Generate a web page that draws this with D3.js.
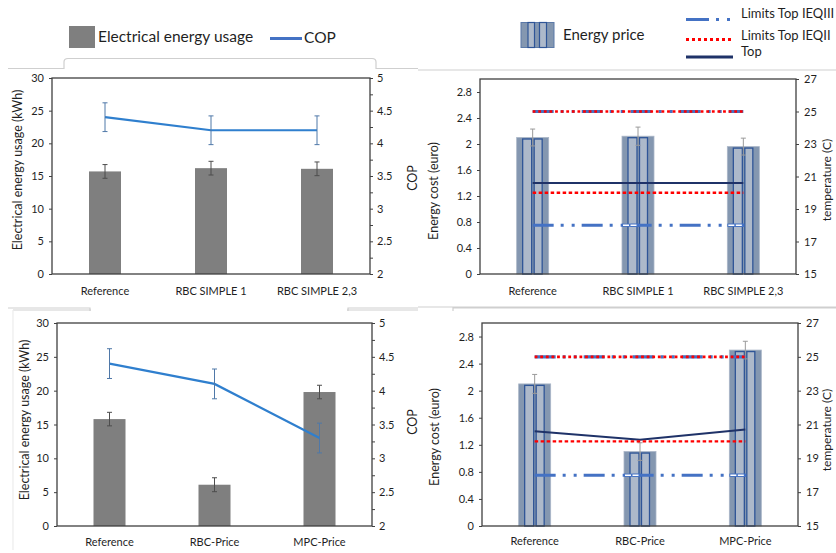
<!DOCTYPE html>
<html><head><meta charset="utf-8">
<script src="https://cdn.jsdelivr.net/npm/d3@7"></script>
<style>
body{margin:0;background:#fff;}
svg{display:block;font-family:Lato,"Open Sans",sans-serif;}
</style>
</head><body>
<svg id="c" width="836" height="553"></svg>
<script>
// ---------- data ----------
const cats1 = ["Reference", "RBC SIMPLE 1", "RBC SIMPLE 2,3"];
const cats2 = ["Reference", "RBC-Price", "MPC-Price"];

const energy1 = [15.7, 16.2, 16.1];
const energyErr1 = [1.05, 1.05, 1.05];
const cop1 = [4.4, 4.2, 4.2];
const copErr1 = [0.22, 0.22, 0.22];

const energy2 = [15.8, 6.1, 19.8];
const energyErr2 = [1.0, 1.03, 1.0];
const cop2 = [4.4, 4.1, 3.3];
const copErr2 = [0.22, 0.22, 0.22];

const price1 = [2.1, 2.12, 1.96];
const priceErr1 = [0.13, 0.14, 0.13];
const topTemp1 = [20.6, 20.6, 20.6];

const price2 = [2.1, 1.1, 2.6];
const priceErr2 = [0.14, 0.13, 0.13];
const topTemp2 = [20.6, 20.1, 20.7];

const ieq3Upper = [25, 25, 25];
const ieq3Lower = [18, 18, 18];
const ieq2Upper = [25, 25, 25];
const ieq2Lower = [20, 20, 20];

const energyTicks = [0, 5, 10, 15, 20, 25, 30];
const copTicks = [2, 2.25, 2.5, 2.75, 3, 3.25, 3.5, 3.75, 4, 4.25, 4.5, 4.75, 5];
const priceTicks = [0, 0.4, 0.8, 1.2, 1.6, 2, 2.4, 2.8];
const tempTicks = [15, 17, 19, 21, 23, 25, 27];

// ---------- helpers ----------
const svg = d3.select("#c");
const TXT = "#1f1f1f";
const AX = "#404040";

function styleAxis(g) {
  g.select(".domain").remove();
  g.selectAll(".tick line").attr("stroke", AX).attr("stroke-width", 1);
  g.selectAll(".tick text").attr("fill", TXT).style("font-size", "11px").style("font-family", "Lato");
}

function errBar(g, x, y1, y2, color, cap) {
  g.append("line").attr("x1", x).attr("x2", x).attr("y1", y1).attr("y2", y2)
    .attr("stroke", color).attr("stroke-width", 1);
  [y1, y2].forEach(y => g.append("line").attr("x1", x - cap).attr("x2", x + cap)
    .attr("y1", y).attr("y2", y).attr("stroke", color).attr("stroke-width", 1));
}

function vText(x, y, t, size) {
  svg.append("text").attr("transform", `translate(${x},${y}) rotate(-90)`)
    .attr("text-anchor", "middle").attr("dominant-baseline", "middle")
    .attr("fill", TXT).style("font-size", size + "px").text(t);
}

function energyPanel(o) {
  const g = svg.append("g");
  const x = d3.scalePoint().domain(o.cats).range([o.x0, o.x1]).padding(0.5);
  const yL = d3.scaleLinear().domain([0, 30]).range([o.yB, o.yT]);
  const yR = d3.scaleLinear().domain([2, 5]).range([o.yB, o.yT]);

  g.selectAll("rect.bar").data(o.cats).join("rect")
    .attr("x", c => x(c) - 16).attr("width", 32)
    .attr("y", (c, i) => yL(o.energy[i]))
    .attr("height", (c, i) => o.yB - yL(o.energy[i]))
    .attr("fill", "#7f7f7f");

  o.cats.forEach((c, i) => errBar(g, x(c), yL(o.energy[i] - o.energyErr[i]), yL(o.energy[i] + o.energyErr[i]), "#4d4d4d", 2.5));

  g.append("path").datum(o.cats)
    .attr("d", d3.line().x(c => x(c)).y((c, i) => yR(o.cop[i])))
    .attr("fill", "none").attr("stroke", "#2f7fce").attr("stroke-width", 2.2);

  o.cats.forEach((c, i) => errBar(g, x(c), yR(o.cop[i] - o.copErr[i]), yR(o.cop[i] + o.copErr[i]), "#4f78a8", 2.5));

  g.append("rect").attr("x", o.x0).attr("y", o.yT).attr("width", o.x1 - o.x0).attr("height", o.yB - o.yT)
    .attr("fill", "none").attr("stroke", AX).attr("stroke-width", 1.3);

  g.append("g").attr("transform", `translate(${o.x0},0)`)
    .call(d3.axisLeft(yL).tickValues(energyTicks).tickSize(3).tickPadding(5)).call(styleAxis);
  g.append("g").attr("transform", `translate(${o.x1},0)`)
    .call(d3.axisRight(yR).tickValues(copTicks).tickSize(3).tickPadding(4)
      .tickFormat(d => (Math.abs(d * 2 - Math.round(d * 2)) < 1e-9) ? d3.format("~g")(d) : ""))
    .call(styleAxis);

  g.selectAll("text.xl").data(o.cats).join("text")
    .attr("x", c => x(c)).attr("y", o.labY).attr("text-anchor", "middle")
    .attr("dominant-baseline", "middle").attr("fill", TXT).style("font-size", "11px").text(c => c);

  vText(o.ltX, o.ltY, "Electrical energy usage (kWh)", 12.5);
  vText(o.rtX, o.rtY, "COP", 12.5);
}

function priceBar(g, cx, yTop, yBot) {
  g.append("rect").attr("x", cx - 16).attr("width", 32).attr("y", yTop).attr("height", yBot - yTop)
    .attr("fill", "#8497b0").attr("stroke", "#aab6c7").attr("stroke-width", 0.8);
  g.append("rect").attr("x", cx - 10).attr("width", 9).attr("y", yTop + 1.5).attr("height", yBot - yTop - 1.5)
    .attr("fill", "#adb9ca").attr("stroke", "#2f5597").attr("stroke-width", 1.3);
  g.append("rect").attr("x", cx + 1.5).attr("width", 8).attr("y", yTop + 1.5).attr("height", yBot - yTop - 1.5)
    .attr("fill", "#adb9ca").attr("stroke", "#2f5597").attr("stroke-width", 1.3);
}

function pricePanel(o) {
  const g = svg.append("g");
  const x = d3.scalePoint().domain(o.cats).range([o.x0, o.x1]).padding(0.5);
  const yL = d3.scaleLinear().domain([0, 3]).range([o.yB, o.yT]);
  const yR = d3.scaleLinear().domain([15, 27]).range([o.yB, o.yT]);

  o.cats.forEach((c, i) => priceBar(g, x(c), yL(o.price[i]), o.yB));
  o.cats.forEach((c, i) => errBar(g, x(c), yL(o.price[i] - o.priceErr[i]), yL(o.price[i] + o.priceErr[i]), "#9a9a9a", 2.5));

  const ln = arr => d3.line().x(c => x(c)).y((c, i) => yR(arr[i]))(o.cats);

  // upper limits (IEQIII dash-dot under IEQII dots)
  g.append("path").attr("d", ln(ieq3Upper)).attr("fill", "none").attr("stroke", "#4472c4")
    .attr("stroke-width", 3.2).attr("stroke-dasharray", "21,7,3,8,3,7");
  g.append("path").attr("d", ln(ieq2Upper)).attr("fill", "none").attr("stroke", "#ff0000")
    .attr("stroke-width", 2.6).attr("stroke-dasharray", "2.8,2.8");
  // top temperature
  g.append("path").attr("d", ln(o.top)).attr("fill", "none").attr("stroke", "#1f3268").attr("stroke-width", 2);
  // lower limits
  g.append("path").attr("d", ln(ieq2Lower)).attr("fill", "none").attr("stroke", "#ff0000")
    .attr("stroke-width", 2.4).attr("stroke-dasharray", "3.5,2.5");
  g.append("path").attr("d", ln(ieq3Lower)).attr("fill", "none").attr("stroke", "#4472c4")
    .attr("stroke-width", 3.2).attr("stroke-dasharray", "21,7,3,8,3,7");
  // white inner dashes where the lower line crosses the later bars
  o.cats.slice(1).forEach(c => {
    const yy = yR(ieq3Lower[0]);
    g.append("line").attr("x1", x(c) - 16).attr("x2", x(c) + 1).attr("y1", yy).attr("y2", yy)
      .attr("stroke", "#4472c4").attr("stroke-width", 3.2);
    g.append("line").attr("x1", x(c) - 15).attr("x2", x(c)).attr("y1", yy).attr("y2", yy)
      .attr("stroke", "#ffffff").attr("stroke-width", 1.4).attr("stroke-dasharray", "6,1.5");
  });

  g.append("rect").attr("x", o.x0).attr("y", o.yT).attr("width", o.x1 - o.x0).attr("height", o.yB - o.yT)
    .attr("fill", "none").attr("stroke", AX).attr("stroke-width", 1.3);

  g.append("g").attr("transform", `translate(${o.x0},0)`)
    .call(d3.axisLeft(yL).tickValues(priceTicks).tickSize(3).tickPadding(5).tickFormat(d3.format("~g"))).call(styleAxis);
  g.append("g").attr("transform", `translate(${o.x1},0)`)
    .call(d3.axisRight(yR).tickValues(tempTicks).tickSize(3).tickPadding(5)).call(styleAxis);

  g.selectAll("text.xl").data(o.cats).join("text")
    .attr("x", c => x(c)).attr("y", o.labY).attr("text-anchor", "middle")
    .attr("dominant-baseline", "middle").attr("fill", TXT).style("font-size", "11px").text(c => c);

  vText(o.ltX, o.ltY, "Energy cost (euro)", 12.5);
  vText(o.rtX, o.rtY, "temperature (C)", 12);
}

// ---------- page frame decorations (grey panel borders) ----------
const deco = svg.append("g").attr("fill", "none").attr("stroke", "#cfcfcf").attr("stroke-width", 1.2);
deco.append("path").attr("d", "M8,68.5 H64 V62 Q64,58.5 68,58.5 H372 Q376,58.5 376,62 V68.5 H418");
deco.append("path").attr("d", "M418,70 H836");
deco.append("path").attr("d", "M8,308 H90 V311 M13,310 H91 M348,311 V308 H418 M347,310 H418");
deco.append("path").attr("d", "M453,311 V308 H836 M418,307 H836");
deco.append("path").attr("d", "M13,310 V550").attr("stroke", "#ececec");

// ---------- panels ----------
energyPanel({cats: cats1, energy: energy1, energyErr: energyErr1, cop: cop1, copErr: copErr1,
  x0: 52, x1: 370, yT: 78, yB: 274, labY: 292, ltX: 19, ltY: 170, rtX: 414, rtY: 178});
energyPanel({cats: cats2, energy: energy2, energyErr: energyErr2, cop: cop2, copErr: copErr2,
  x0: 57, x1: 372, yT: 323, yB: 526, labY: 543, ltX: 26, ltY: 420, rtX: 414, rtY: 422});
pricePanel({cats: cats1, price: price1, priceErr: priceErr1, top: topTemp1,
  x0: 480, x1: 796, yT: 79, yB: 274, labY: 292, ltX: 435, ltY: 191, rtX: 828, rtY: 180});
pricePanel({cats: cats2, price: price2, priceErr: priceErr2, top: topTemp2,
  x0: 482, x1: 798, yT: 323, yB: 526, labY: 542, ltX: 436, ltY: 437, rtX: 828, rtY: 430});

// ---------- legends ----------
const lg = svg.append("g");
lg.append("rect").attr("x", 69).attr("y", 26).attr("width", 26).attr("height", 22).attr("fill", "#7f7f7f");
lg.append("text").attr("x", 98).attr("y", 38).attr("dominant-baseline", "middle").attr("fill", TXT)
  .style("font-size", "15.5px").text("Electrical energy usage");
lg.append("line").attr("x1", 270).attr("x2", 302).attr("y1", 38.5).attr("y2", 38.5)
  .attr("stroke", "#4472c4").attr("stroke-width", 3);
lg.append("text").attr("x", 304).attr("y", 39).attr("dominant-baseline", "middle").attr("fill", TXT)
  .style("font-size", "15.5px").text("COP");

// energy price icon
lg.append("rect").attr("x", 521).attr("y", 22.5).attr("width", 33).attr("height", 25)
  .attr("fill", "#8497b0").attr("stroke", "#5b79a8").attr("stroke-width", 1);
lg.append("rect").attr("x", 528).attr("y", 22.5).attr("width", 6.5).attr("height", 25)
  .attr("fill", "#adb9ca").attr("stroke", "#2f5597").attr("stroke-width", 1.2);
lg.append("rect").attr("x", 539.5).attr("y", 22.5).attr("width", 7).attr("height", 25)
  .attr("fill", "#adb9ca").attr("stroke", "#2f5597").attr("stroke-width", 1.2);
lg.append("text").attr("x", 563).attr("y", 36).attr("dominant-baseline", "middle").attr("fill", TXT)
  .style("font-size", "15px").text("Energy price");

lg.append("line").attr("x1", 686).attr("x2", 733).attr("y1", 19.5).attr("y2", 19.5)
  .attr("stroke", "#4472c4").attr("stroke-width", 3).attr("stroke-dasharray", "23,7,3,8,3,20");
lg.append("text").attr("x", 741).attr("y", 15).attr("dominant-baseline", "middle").attr("fill", TXT)
  .style("font-size", "13px").text("Limits Top IEQIII");
lg.append("line").attr("x1", 686).attr("x2", 731).attr("y1", 39.5).attr("y2", 39.5)
  .attr("stroke", "#ff0000").attr("stroke-width", 3).attr("stroke-dasharray", "3,3");
lg.append("text").attr("x", 741).attr("y", 37).attr("dominant-baseline", "middle").attr("fill", TXT)
  .style("font-size", "13px").text("Limits Top IEQII");
lg.append("line").attr("x1", 686).attr("x2", 733).attr("y1", 57).attr("y2", 57)
  .attr("stroke", "#1f3268").attr("stroke-width", 3);
lg.append("text").attr("x", 741).attr("y", 53).attr("dominant-baseline", "middle").attr("fill", TXT)
  .style("font-size", "13px").text("Top");
</script>
</body></html>
